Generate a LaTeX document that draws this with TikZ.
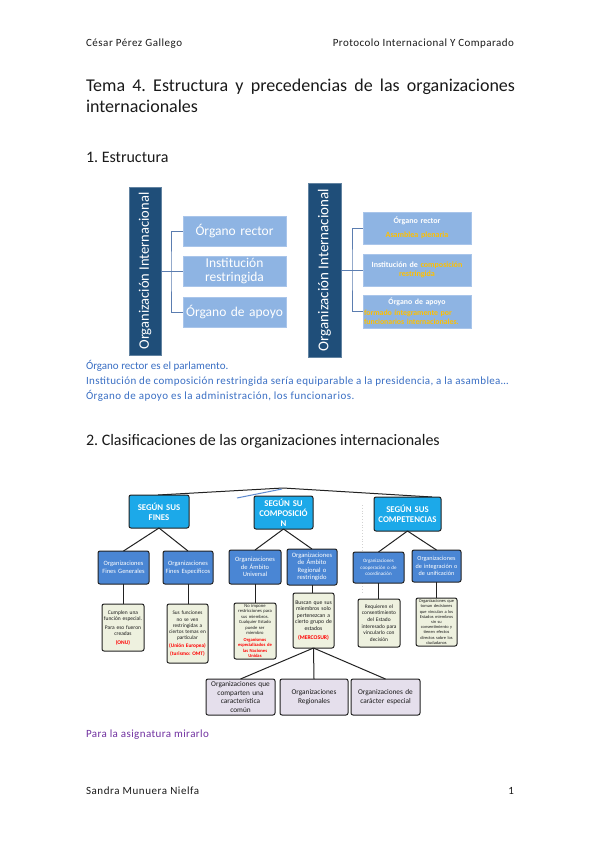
\documentclass[tikz,border=0pt]{standalone}
\usepackage{fontspec}
\usepackage{graphicx}
\setmainfont{Carlito}
\usetikzlibrary{calc}
\definecolor{navy}{HTML}{1F4E79}
\definecolor{lblue}{HTML}{8EB4E3}
\definecolor{lblueb}{HTML}{A9C5EA}
\definecolor{connc}{HTML}{5B7DB0}
\definecolor{gold}{HTML}{FFC000}
\definecolor{cyanb}{HTML}{1CA9E9}
\definecolor{midblue}{HTML}{4A86D4}
\definecolor{paleg}{HTML}{EEF1DF}
\definecolor{lav}{HTML}{E5DFEC}
\definecolor{darkl}{HTML}{222222}
\definecolor{noteblue}{HTML}{3A6FC4}
\definecolor{purp}{HTML}{7030A0}
\definecolor{redt}{HTML}{FF0000}
\definecolor{txt}{HTML}{1A1A1A}
\newcommand{\fs}[2]{\fontsize{#1}{#2}\selectfont}
\newcommand{\lsp}[1]{\addfontfeatures{LetterSpace=#1}}
\frenchspacing
\tikzset{
  every node/.style={inner sep=0pt, outer sep=0pt},
  plain/.style={anchor=base west, text=txt},
  barbox/.style={fill=navy, draw=navy!70!white, line width=0.6pt, text=white},
  lbox/.style={fill=lblue, draw=lblueb, line width=0.8pt, text=white, align=center},
  conn/.style={draw=connc, line width=1pt},
  lvA/.style={fill=cyanb, draw=darkl, line width=1pt, rounded corners=2pt, text=white, align=center, font=\bfseries\fs{8.8}{10}},
  lvB/.style={fill=midblue, draw=darkl, line width=1pt, rounded corners=2pt, text=white, align=center, font=\fs{6.5}{7.6}},
  lvC/.style={fill=paleg, draw=darkl, line width=1pt, rounded corners=2pt, text=txt, align=center, font=\fs{5.5}{6.5}},
  lvD/.style={fill=lav, draw=darkl, line width=1pt, rounded corners=2pt, text=txt, align=center, font=\fs{7.3}{8.6}},
  treeline/.style={draw=darkl, line width=1pt},
}
\begin{document}
\begin{tikzpicture}[x=1pt,y=-1pt]
\fill[white] (0,0) rectangle (599,848);
\useasboundingbox (0,0) rectangle (599,848);

% header
\node[plain, font=\fs{11}{13}\lsp{4.8}] (hl) at (86,47) {César Pérez Gallego};
\node[plain, anchor=base east, font=\fs{11}{13}\lsp{4.2}] (hr) at (514,47) {Protocolo Internacional Y Comparado};

% title
\node[plain, font=\fs{18}{21}] (t1) at (86,92) {\makebox[429pt][s]{Tema 4. Estructura y precedencias de las organizaciones}};
\node[plain, font=\fs{18}{21}] (t2) at (86,113) {internacionales};

\node[plain, font=\fs{16}{19}] (s1) at (86,162) {1. Estructura};

% ---------- diagram 1 left
\node[barbox, minimum width=32pt, minimum height=168pt] (barL) at (145,271)
  {\rotatebox{90}{\fs{14.5}{16}Organización Internacional}};
\node[lbox, minimum width=103pt, minimum height=30pt, text width=100pt, font=\fs{13.5}{14.5}] (lb1) at (234.5,231) {Órgano rector};
\node[lbox, minimum width=103pt, minimum height=30pt, text width=100pt, font=\fs{13.5}{14.3}] (lb2) at (234.5,271) {Institución\\restringida};
\node[lbox, minimum width=103pt, minimum height=30pt, text width=100pt, font=\fs{13.5}{14.5}] (lb3) at (234.5,312) {Órgano de apoyo};
\coordinate (jL) at (171,271);
\draw[conn] (barL.east |- lb2.west) -- (lb2.west);
\draw[conn] (lb1.west) -| (jL) |- (lb3.west);

% ---------- diagram 1 right
\node[barbox, minimum width=33pt, minimum height=174pt] (barR) at (324.5,270)
  {\rotatebox{90}{\fs{15}{16}Organización Internacional}};
\node[lbox, minimum width=108pt, minimum height=32pt, text width=106pt, font=\bfseries\fs{8}{9}] (rb1) at (417,228)
  {Órgano rector\\[4.5pt]\textcolor{gold}{Asamblea plenaria}};
\node[lbox, minimum width=108pt, minimum height=32pt, text width=106pt, font=\bfseries\fs{8}{9}] (rb2) at (417,270)
  {Institución de \textcolor{gold}{composición}\\\textcolor{gold}{restringida}};
\node[lbox, minimum width=108pt, minimum height=33pt, text width=106pt, font=\bfseries\fs{7.8}{9.6}] (rb3) at (417,311.5)
  {Órgano de apoyo\\[1pt]\textcolor{gold}{\makebox[106pt][s]{formado íntegramente por}}\\\textcolor{gold}{\makebox[106pt][l]{funcionarios internacionales.}}};
\coordinate (jR) at (352,270);
\draw[conn] (barR.east |- rb2.west) -- (rb2.west);
\draw[conn] (rb1.west) -| (jR) |- (rb3.west);

% notes
\node[plain, text=noteblue, font=\fs{11}{13}] (n1) at (86,369) {Órgano rector es el parlamento.};
\node[plain, text=noteblue, font=\fs{11}{13}\lsp{3.3}] (n2) at (86,384) {Institución de composición restringida sería equiparable a la presidencia, a la asamblea…};
\node[plain, text=noteblue, font=\fs{11}{13}\lsp{4.3}] (n3) at (86,399) {Órgano de apoyo es la administración, los funcionarios.};

\node[plain, font=\fs{16}{19}] (s2) at (86,445) {2. Clasificaciones de las organizaciones internacionales};

% ---------- diagram 2
\coordinate (apex) at (283,488);
\coordinate (tr) at (432,497);
\coordinate (tl) at (158,495);
\draw[treeline] (tl) -- (apex) -- (tr);
\draw[draw=noteblue!80!white, line width=1pt] (237,498) -- (282,489);
\draw[gray!35, dotted, line width=0.8pt] (362,505) -- (362,592);

% level 1
\node[lvA, minimum width=60pt, minimum height=33pt, text width=58pt] (fines) at (159,511.5) {SEGÚN SUS\\FINES};
\node[lvA, minimum width=59pt, minimum height=33pt, text width=57pt] (comp) at (283.5,512.5) {SEGÚN SU\\COMPOSICIÓ\\N};
\node[lvA, minimum width=67pt, minimum height=34pt, text width=65pt] (compet) at (407.5,514) {SEGÚN SUS\\COMPETENCIAS};

% level 2
\node[lvB, minimum width=51pt, minimum height=33pt, text width=49pt] (gen) at (123.5,567.5) {Organizaciones\\Fines Generales};
\node[lvB, minimum width=50pt, minimum height=33pt, text width=48pt] (esp) at (188,567.5) {Organizaciones\\Fines Específicos};
\node[lvB, minimum width=52pt, minimum height=34pt, text width=50pt] (univ) at (255,567) {Organizaciones\\de Ámbito\\Universal};
\node[lvB, minimum width=50pt, minimum height=36pt, text width=48pt, font=\fs{6.6}{7.5}] (reg) at (312,567) {Organizaciones\\de Ámbito\\Regional o\\restringido};
\node[lvB, minimum width=51pt, minimum height=31pt, text width=49pt, font=\fs{5}{6.3}] (coop) at (378.5,567.5) {Organizaciones\\cooperación o de\\coordinación};
\node[lvB, minimum width=49pt, minimum height=32pt, text width=47pt, font=\fs{6.2}{7.4}] (integ) at (436.5,566) {Organizaciones\\de integración o\\de unificación};

% level 3
\node[lvC, minimum width=42pt, minimum height=47pt, text width=40pt] (g3) at (123,627.5)
  {Cumplen una\\función especial.\\[2pt]Para eso fueron\\creadas\\[2pt]\textcolor{redt}{\bfseries(ONU)}};
\node[lvC, minimum width=41pt, minimum height=59pt, text width=40pt, font=\fs{5.3}{6.2}] (e3) at (187.5,633.5)
  {Sus funciones\\no se ven\\restringidas a\\ciertos temas en\\particular\\[1.5pt]\textcolor{redt}{\bfseries(Unión Europea)}\\[1.5pt]\textcolor{redt}{\bfseries(turismo: OMT)}};
\node[lvC, minimum width=42pt, minimum height=56pt, text width=41pt, font=\fs{4.6}{5.4}] (u3) at (255,631)
  {No impone\\restricciones para\\sus miembros.\\Cualquier Estado\\puede ser\\miembro\\[1.5pt]\textcolor{redt}{\bfseries Organismos\\especializados de\\las Naciones\\Unidas}};
\node[lvC, minimum width=41pt, minimum height=55pt, text width=40pt, font=\fs{5.7}{6.5}] (r3) at (313.5,620.5)
  {Buscan que sus\\miembros solo\\pertenezcan a\\cierto grupo de\\estados\\[2.5pt]\textcolor{redt}{\bfseries(MERCOSUR)}};
\node[lvC, minimum width=42pt, minimum height=48pt, text width=41pt, font=\fs{5.4}{6.6}] (c3) at (379,623)
  {Requieren el\\consentimiento\\del Estado\\interesado para\\vincularlo con\\decisión};
\node[lvC, minimum width=41pt, minimum height=48pt, text width=40pt, font=\fs{4.4}{5.2}] (i3) at (436.5,622)
  {Organizaciones que\\toman decisiones\\que vinculan a los\\Estados miembros\\sin su\\consentimiento y\\tienen efectos\\directos sobre los\\ciudadanos};

% level 4
\node[lvD, minimum width=69pt, minimum height=36pt, text width=68pt] (a4) at (240.5,697) {Organizaciones que\\comparten una\\característica\\común};
\node[lvD, minimum width=68pt, minimum height=36pt, text width=66pt] (b4) at (314,697) {Organizaciones\\Regionales};
\node[lvD, minimum width=69pt, minimum height=36pt, text width=67pt] (c4) at (385.5,697) {Organizaciones de\\carácter especial};

% tree lines
\draw[treeline] (fines.south) -- (gen.north);
\draw[treeline] (fines.south) -- (esp.north);
\draw[treeline] (comp.south) -- (univ.north);
\draw[treeline] (comp.south) -- (reg.north);
\draw[treeline] (compet.south) -- (coop.north);
\draw[treeline] (compet.south) -- (integ.north);
\draw[treeline] (gen.south) -- (gen.south |- g3.north);
\draw[treeline] (esp.south) -- (esp.south |- e3.north);
\draw[treeline] (univ.south) -- (univ.south |- u3.north);
\draw[treeline] (reg.south) -- (reg.south |- r3.north);
\draw[treeline] (coop.south) -- (coop.south |- c3.north);
\draw[treeline] (integ.south) -- (integ.south |- i3.north);
\draw[treeline] (r3.south) -- (a4.north);
\draw[treeline] (r3.south) -- (b4.north);
\draw[treeline] (r3.south) -- (c4.north);

\node[plain, text=purp, font=\fs{11}{13}\lsp{3.8}] (pa) at (86,737) {Para la asignatura mirarlo};

% footer
\node[plain, font=\fs{11}{13}\lsp{5.2}] (fl) at (86,794) {Sandra Munuera Nielfa};
\node[plain, anchor=base east, font=\fs{11}{13}] (fr) at (514,794) {1};
\end{tikzpicture}
\end{document}
